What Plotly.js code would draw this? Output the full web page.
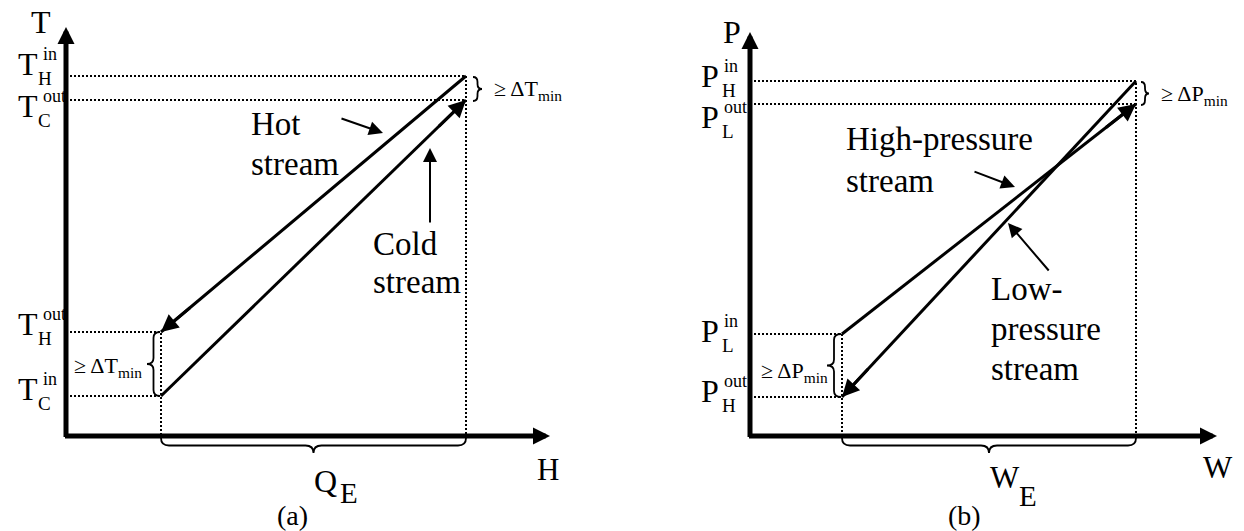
<!DOCTYPE html>
<html>
<head>
<meta charset="utf-8">
<script src="https://cdn.plot.ly/plotly-3.0.1.min.js"></script>
<style>
  html, body { margin: 0; padding: 0; background: #fff; }
  #chart { width: 1244px; height: 531px; }
</style>
</head>
<body>
<div id="chart"></div>
<script>
// ---- Panel (a): heat exchange, enthalpy H against temperature T (schematic units)
const hRange = [95, 400];      // H at the cold end and at the hot end of the exchanger
const hotT = [360, 104];       // hot stream: T_H^in -> T_H^out
const coldT = [40, 336];       // cold stream: T_C^in -> T_C^out
const hAxisMax = 484;
const tAxisMax = 409;

// ---- Panel (b): work exchange, W against pressure P (schematic units)
const wRange = [92, 386];
const highP = [355, 39];       // high-pressure stream: P_H^in -> P_H^out
const lowP = [102, 332];       // low-pressure stream: P_L^in -> P_L^out
const wAxisMax = 467;
const pAxisMax = 404;

// Level labels on the vertical axes
const tLevels = [
  { base: 'T', sup: 'in',  sub: 'H', value: hotT[0] },
  { base: 'T', sup: 'out', sub: 'C', value: coldT[1] },
  { base: 'T', sup: 'out', sub: 'H', value: hotT[1] },
  { base: 'T', sup: 'in',  sub: 'C', value: coldT[0] }
];
const pLevels = [
  { base: 'P', sup: 'in',  sub: 'H', value: highP[0] },
  { base: 'P', sup: 'out', sub: 'L', value: lowP[1] },
  { base: 'P', sup: 'in',  sub: 'L', value: lowP[0] },
  { base: 'P', sup: 'out', sub: 'H', value: highP[1] }
];
// how far each label's baseline sits below its level line
const tBaselineDrop = [-1, 17, 3, 4];
const pBaselineDrop = [6, 24, 8, 5];

const FONT = 'Liberation Serif, Times New Roman, serif';
const BLACK = '#000';

const traces = [];
const annotations = [];
const shapes = [];

function dotted(xs, ys, xa, ya) {
  traces.push({
    x: xs, y: ys, xaxis: xa, yaxis: ya, mode: 'lines',
    line: { color: BLACK, width: 2, dash: '2px,2px' },
    hoverinfo: 'skip', showlegend: false
  });
}
function stream(xs, ys, xa, ya) {
  traces.push({
    x: xs, y: ys, xaxis: xa, yaxis: ya, mode: 'lines',
    line: { color: BLACK, width: 3 },
    hoverinfo: 'skip', showlegend: false
  });
  // arrowhead at the stream outlet, aligned with the segment
  const dx = xs[1] - xs[0], dy = ys[1] - ys[0];
  const len = Math.hypot(dx, dy);
  annotations.push({
    xref: xa, yref: ya, axref: xa, ayref: ya,
    x: xs[1], y: ys[1], ax: xs[1] - dx / len * 40, ay: ys[1] - dy / len * 40,
    text: '', showarrow: true, arrowhead: 2, arrowsize: 1.15, arrowwidth: 3,
    arrowcolor: BLACK, standoff: 0, startstandoff: 0
  });
}
function arrow(xa, ya, x0, y0, x1, y1, width, size) {
  annotations.push({
    xref: xa, yref: ya, axref: xa, ayref: ya,
    x: x1, y: y1, ax: x0, ay: y0,
    text: '', showarrow: true, arrowhead: 2, arrowsize: size, arrowwidth: width,
    arrowcolor: BLACK, standoff: 0, startstandoff: 0
  });
}
function label(xa, ya, x, y, text, size, xanchor) {
  annotations.push({
    xref: xa, yref: ya, x: x, y: y, text: text, showarrow: false,
    xanchor: xanchor || 'center', yanchor: 'middle', align: 'left',
    borderpad: 0, font: { family: FONT, size: size, color: BLACK }
  });
}
function braceV(xa, ya, x, y0, y1, dir, depth, r) {
  const xm = x + dir * depth / 2, xt = x + dir * depth, ym = (y0 + y1) / 2;
  const s = y1 > y0 ? 1 : -1;
  shapes.push({
    type: 'path', xref: xa, yref: ya,
    path: `M${x},${y0} Q${xm},${y0} ${xm},${y0 + s * r} L${xm},${ym - s * r} ` +
          `Q${xm},${ym} ${xt},${ym} Q${xm},${ym} ${xm},${ym + s * r} ` +
          `L${xm},${y1 - s * r} Q${xm},${y1} ${x},${y1}`,
    line: { color: BLACK, width: 1.8 }
  });
}
function braceH(xa, ya, y, x0, x1, dir, depth, r) {
  const ymid = y + dir * depth / 2, yt = y + dir * depth, xm = (x0 + x1) / 2;
  shapes.push({
    type: 'path', xref: xa, yref: ya,
    path: `M${x0},${y} Q${x0},${ymid} ${x0 + r},${ymid} L${xm - r},${ymid} ` +
          `Q${xm},${ymid} ${xm},${yt} Q${xm},${ymid} ${xm + r},${ymid} ` +
          `L${x1 - r},${ymid} Q${x1},${ymid} ${x1},${y}`,
    line: { color: BLACK, width: 1.8 }
  });
}
function levelLabels(xa, ya, levels, drops, baseX, supX, subX) {
  levels.forEach((lv, i) => {
    const baseline = lv.value - drops[i];
    label(xa, ya, baseX, baseline + 11, lv.base, 32, 'center');
    label(xa, ya, supX, baseline + 21, lv.sup, 18, 'left');
    label(xa, ya, subX, baseline - 3, lv.sub, 19, 'left');
  });
}

// ---------- panel (a)
dotted(
  [0, hRange[1], hRange[1], null, 0, hRange[1], null, 0, hRange[0], hRange[0], null, 0, hRange[0]],
  [hotT[0], hotT[0], 0, null, coldT[1], coldT[1], null, hotT[1], hotT[1], 0, null, coldT[0], coldT[0]],
  'x', 'y');
stream([hRange[1], hRange[0]], hotT, 'x', 'y');
stream([hRange[0], hRange[1]], coldT, 'x', 'y');
arrow('x', 'y', -2.5, 0, hAxisMax, 0, 5, 0.68);
arrow('x', 'y', 0, -2.5, 0, tAxisMax, 5, 0.68);
arrow('x', 'y', 274, 318, 317, 303, 2, 1.4);
arrow('x', 'y', 364, 212, 364, 288, 2, 1.4);
label('x', 'y', 184, 312, 'Hot', 33, 'left');
label('x', 'y', 184, 272, 'stream', 33, 'left');
label('x', 'y', 306, 192, 'Cold', 33, 'left');
label('x', 'y', 306, 154, 'stream', 33, 'left');
label('x', 'y', -25, 414, 'T', 32);
label('x', 'y', 482, -33, 'H', 31);
levelLabels('x', 'y', tLevels, tBaselineDrop, -38, -24, -29);
braceV('x', 'y', hRange[1] + 7, hotT[0] - 1, coldT[1] - 1, 1, 9, 5);
braceV('x', 'y', hRange[0] - 1, hotT[1], coldT[0], -1, 13, 6);
braceH('x', 'y', -2, hRange[0], hRange[1], -1, 15, 8);
label('x', 'y', 427, 346, '\u2265 \u0394T<sub>min</sub>', 22, 'left');
label('x', 'y', 7, 69, '\u2265 \u0394T<sub>min</sub>', 22, 'left');
const hMid = (hRange[0] + hRange[1]) / 2;
label('x', 'y', hMid + 12, -45, 'Q', 32);
label('x', 'y', hMid + 35, -57, 'E', 29);
label('x', 'y', hMid - 21, -79, '(a)', 28);

// ---------- panel (b)
dotted(
  [0, wRange[1], wRange[1], null, 0, wRange[1], null, 0, wRange[0], wRange[0], null, 0, wRange[0]],
  [highP[0], highP[0], 0, null, lowP[1], lowP[1], null, lowP[0], lowP[0], 0, null, highP[1], highP[1]],
  'x2', 'y2');
stream([wRange[1], wRange[0]], highP, 'x2', 'y2');
stream([wRange[0], wRange[1]], lowP, 'x2', 'y2');
arrow('x2', 'y2', -2.5, 0, wAxisMax, 0, 5, 0.68);
arrow('x2', 'y2', 0, -2.5, 0, pAxisMax, 5, 0.68);
arrow('x2', 'y2', 223, 265, 265, 249, 2, 1.4);
arrow('x2', 'y2', 300, 164, 258, 213, 2, 1.4);
label('x2', 'y2', 95, 297, 'High-pressure', 33, 'left');
label('x2', 'y2', 95, 255, 'stream', 33, 'left');
label('x2', 'y2', 240, 147, 'Low-', 33, 'left');
label('x2', 'y2', 240, 107, 'pressure', 33, 'left');
label('x2', 'y2', 240, 67, 'stream', 33, 'left');
label('x2', 'y2', -18, 404, 'P', 32);
label('x2', 'y2', 468, -31, 'W', 31);
levelLabels('x2', 'y2', pLevels, pBaselineDrop, -40, -27, -29);
braceV('x2', 'y2', wRange[1] + 5, highP[0] - 1, lowP[1] - 1, 1, 8, 5);
braceV('x2', 'y2', wRange[0] - 1, lowP[0], highP[1], -1, 14, 6);
braceH('x2', 'y2', -2, wRange[0], wRange[1], -1, 15, 8);
label('x2', 'y2', 410, 341, '\u2265 \u0394P<sub>min</sub>', 22, 'left');
label('x2', 'y2', 10, 64, '\u2265 \u0394P<sub>min</sub>', 22, 'left');
const wMid = (wRange[0] + wRange[1]) / 2;
label('x2', 'y2', wMid + 16, -41, 'W', 31);
label('x2', 'y2', wMid + 39, -60, 'E', 29);
label('x2', 'y2', wMid - 25, -79, '(b)', 28);

const hidden = { visible: false, showgrid: false, zeroline: false, fixedrange: true };
const layout = {
  width: 1244, height: 531,
  margin: { l: 0, r: 0, t: 0, b: 0, pad: 0 },
  paper_bgcolor: '#fff', plot_bgcolor: '#fff',
  showlegend: false,
  xaxis:  Object.assign({ domain: [0, 0.5], range: [-66, 556] }, hidden),
  yaxis:  Object.assign({ domain: [0, 1], range: [-95, 436] }, hidden),
  xaxis2: Object.assign({ domain: [0.5, 1], range: [-128, 494], anchor: 'y2' }, hidden),
  yaxis2: Object.assign({ domain: [0, 1], range: [-95, 436], anchor: 'x2' }, hidden),
  annotations: annotations,
  shapes: shapes
};

Plotly.newPlot('chart', traces, layout, { staticPlot: true, displayModeBar: false });
</script>
</body>
</html>
